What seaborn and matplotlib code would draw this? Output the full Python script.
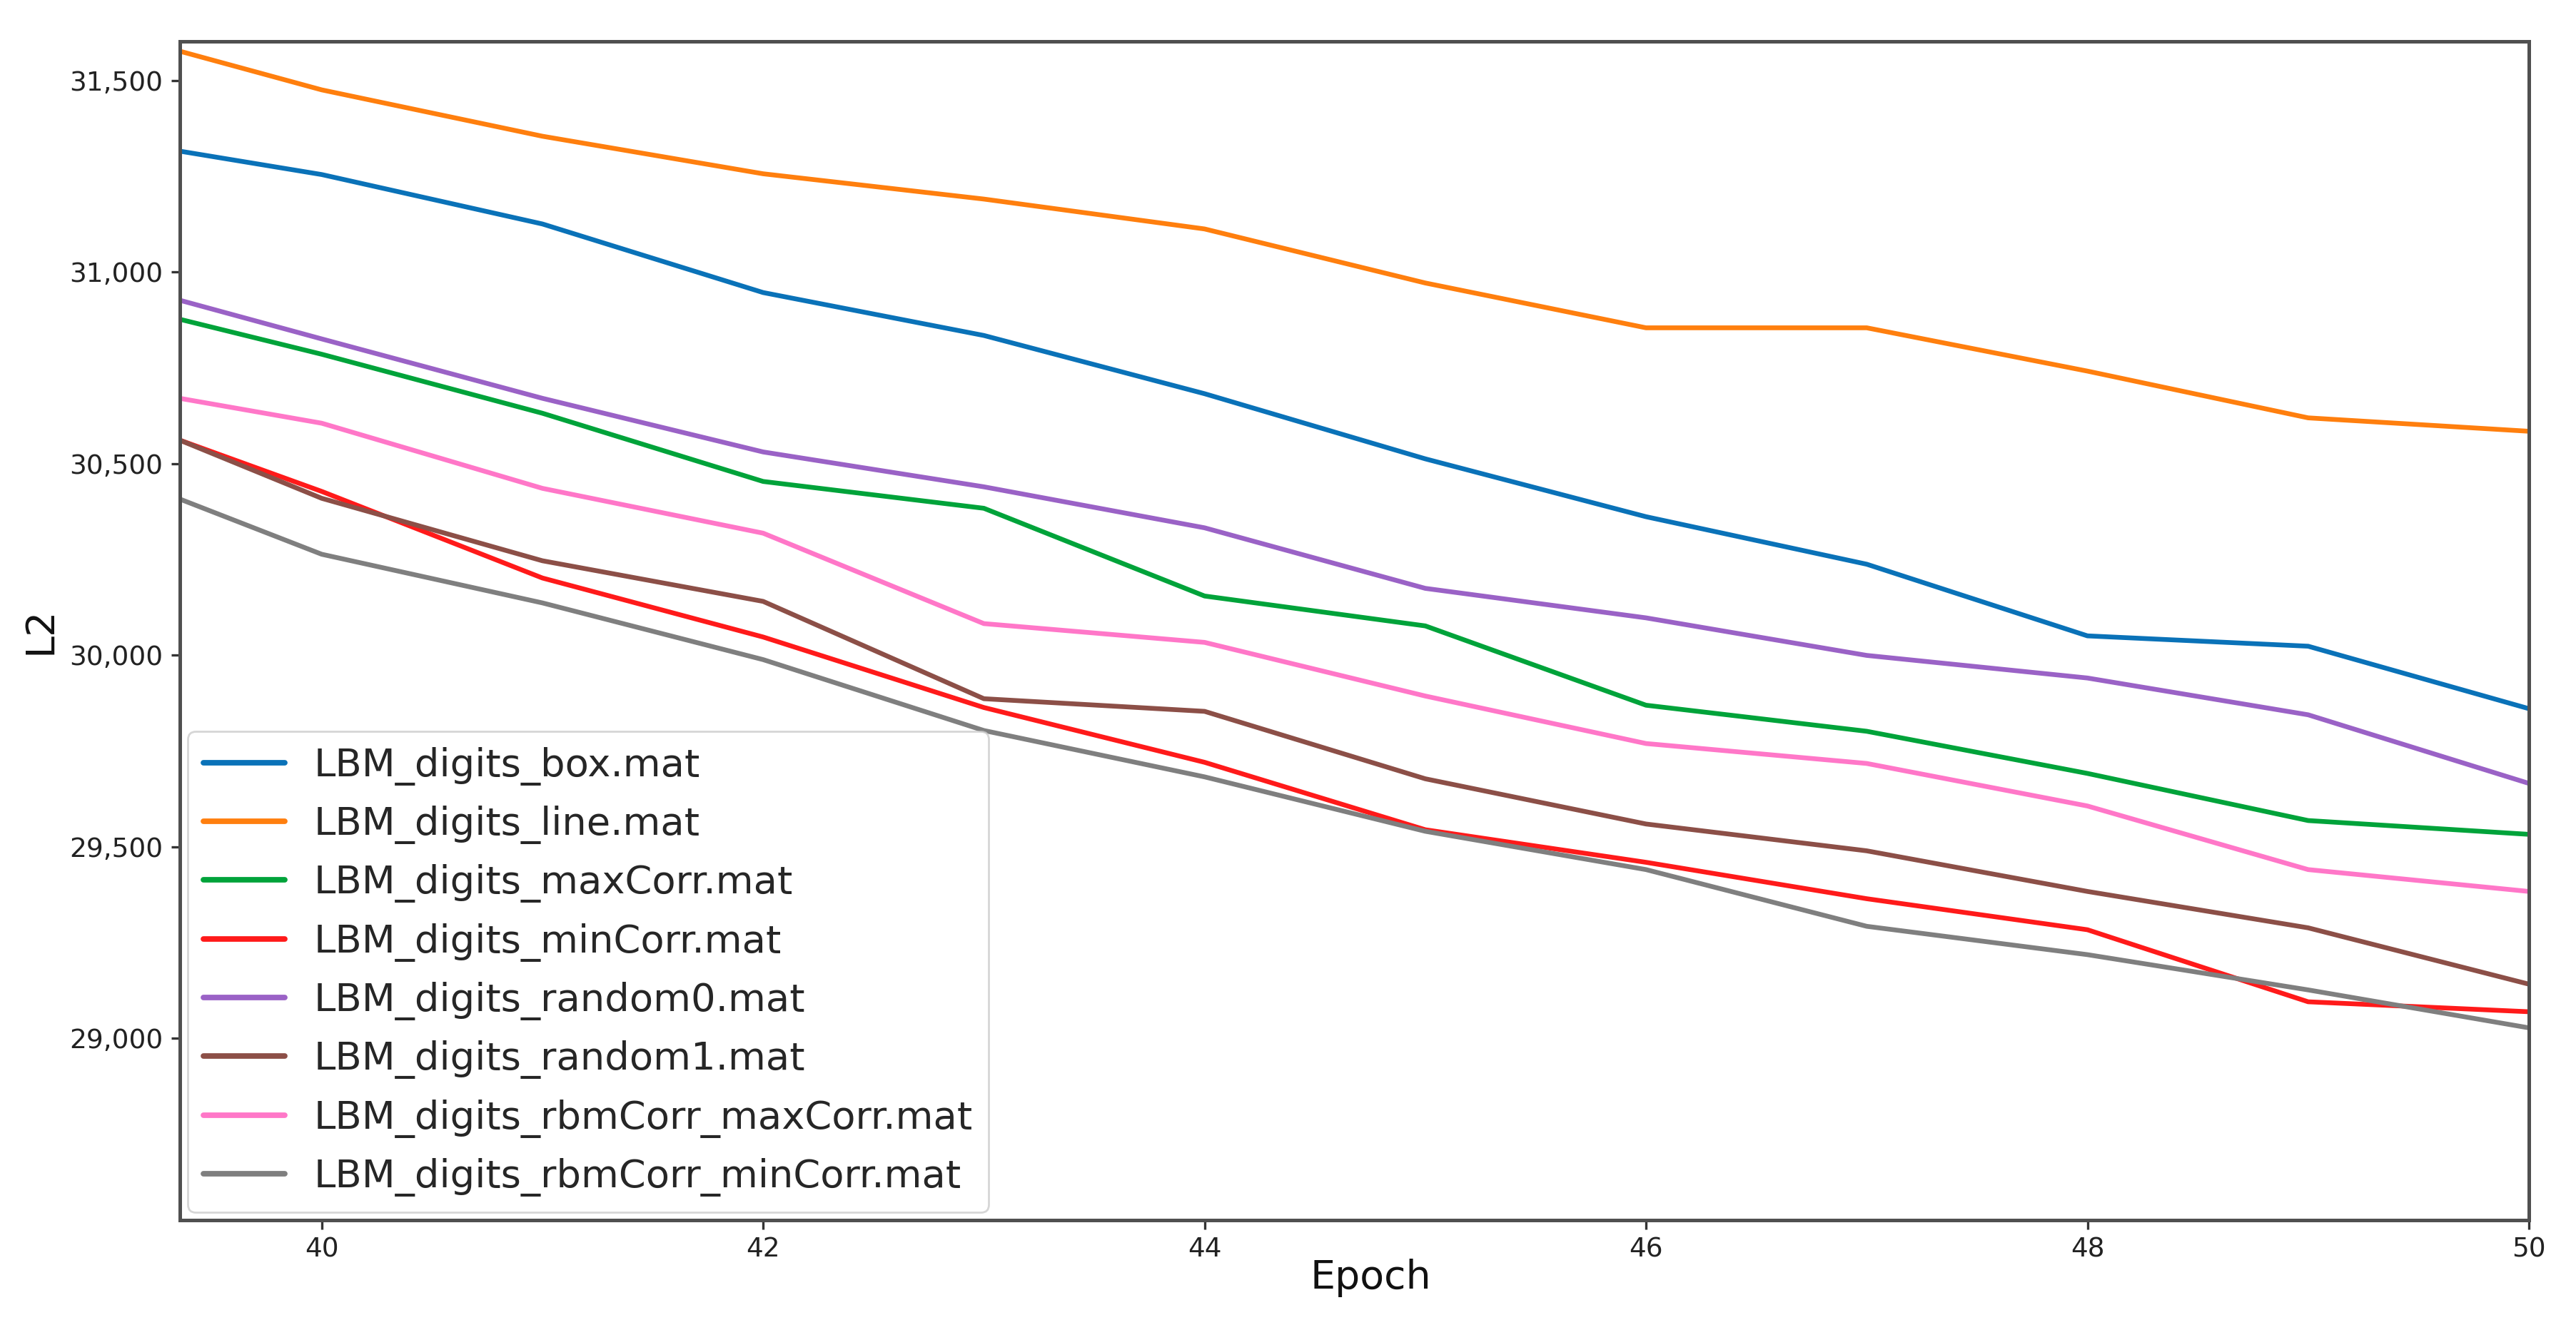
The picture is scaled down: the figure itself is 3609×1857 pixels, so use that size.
import numpy as np
import pandas as pd
import matplotlib
matplotlib.use("Agg")
import matplotlib.pyplot as plt
import seaborn as sns
from matplotlib.ticker import FuncFormatter, MultipleLocator

# ---- data ----
epochs = [39, 40, 41, 42, 43, 44, 45, 46, 47, 48, 49, 50]
series_names = [
    "LBM_digits_box.mat",
    "LBM_digits_line.mat",
    "LBM_digits_maxCorr.mat",
    "LBM_digits_minCorr.mat",
    "LBM_digits_random0.mat",
    "LBM_digits_random1.mat",
    "LBM_digits_rbmCorr_maxCorr.mat",
    "LBM_digits_rbmCorr_minCorr.mat",
]
box_vals = [31349, 31254, 31125, 30946, 30834, 30682, 30512, 30361, 30237, 30050, 30023, 29860]
line_vals = [31632, 31475, 31354, 31256, 31190, 31112, 30971, 30854, 30854, 30741, 30619, 30584]
maxcorr_vals = [30927, 30785, 30631, 30453, 30383, 30154, 30076, 29869, 29801, 29691, 29568, 29532]
mincorr_vals = [30635, 30427, 30201, 30047, 29863, 29720, 29544, 29459, 29364, 29283, 29095, 29069]
random0_vals = [30982, 30825, 30670, 30530, 30439, 30332, 30174, 30097, 29999, 29940, 29844, 29665]
random1_vals = [30645, 30409, 30246, 30140, 29886, 29853, 29677, 29559, 29489, 29383, 29288, 29141]
rbm_max_vals = [30706, 30605, 30435, 30318, 30082, 30033, 29893, 29769, 29717, 29606, 29440, 29383]
rbm_min_vals = [30487, 30263, 30136, 29988, 29803, 29682, 29540, 29440, 29292, 29218, 29126, 29027]

colors = ["#0a72b8", "#ff7f0e", "#00a33a", "#ff1a1a",
          "#9a62c6", "#8c4f47", "#ff77c8", "#7f7f7f"]

all_vals = [box_vals, line_vals, maxcorr_vals, mincorr_vals,
            random0_vals, random1_vals, rbm_max_vals, rbm_min_vals]

rows = []
for name, vals in zip(series_names, all_vals):
    for e, v in zip(epochs, vals):
        rows.append({"Epoch": e, "L2": v, "series": name})
df = pd.DataFrame(rows)

# ---- plot ----
sns.set_style("ticks")
plt.rcParams["font.family"] = ["DejaVu Sans"]

fig = plt.figure(figsize=(3609 / 200, 1857 / 200), dpi=200)
ax = fig.add_axes([0.0698, 0.0794, 0.9817 - 0.0698, 0.9689 - 0.0794])

sns.lineplot(data=df, x="Epoch", y="L2", hue="series", hue_order=series_names,
             palette=colors, linewidth=2.4, ax=ax, legend=True)

ax.set_xlim(39.357, 50)
ax.set_ylim(28526, 31602)
ax.xaxis.set_major_locator(MultipleLocator(2))
ax.yaxis.set_major_locator(MultipleLocator(500))
ax.yaxis.set_major_formatter(FuncFormatter(lambda v, p: f"{int(v):,}"))

ax.tick_params(axis="both", labelsize=13.5, length=4.5, width=1.2,
               colors="#333333", labelcolor="#222222", pad=4)
for s in ax.spines.values():
    s.set_visible(True)
    s.set_linewidth(1.8)
    s.set_color("#505050")

ax.set_xlabel("Epoch", fontsize=20, labelpad=0, color="#111111")
ax.xaxis.set_label_coords(0.507, -0.033)
ax.set_ylabel("L2", fontsize=20, labelpad=5, color="#111111")

leg = ax.legend(loc="lower left", fontsize=19.6, borderaxespad=0.2,
                handlelength=2.1, handletextpad=0.75, labelspacing=0.52,
                frameon=True, framealpha=0.8, edgecolor="0.8", fancybox=True,
                borderpad=0.4)
for h in leg.get_lines():
    h.set_linewidth(2.8)

fig.savefig("out.png", dpi=200, facecolor="white")
